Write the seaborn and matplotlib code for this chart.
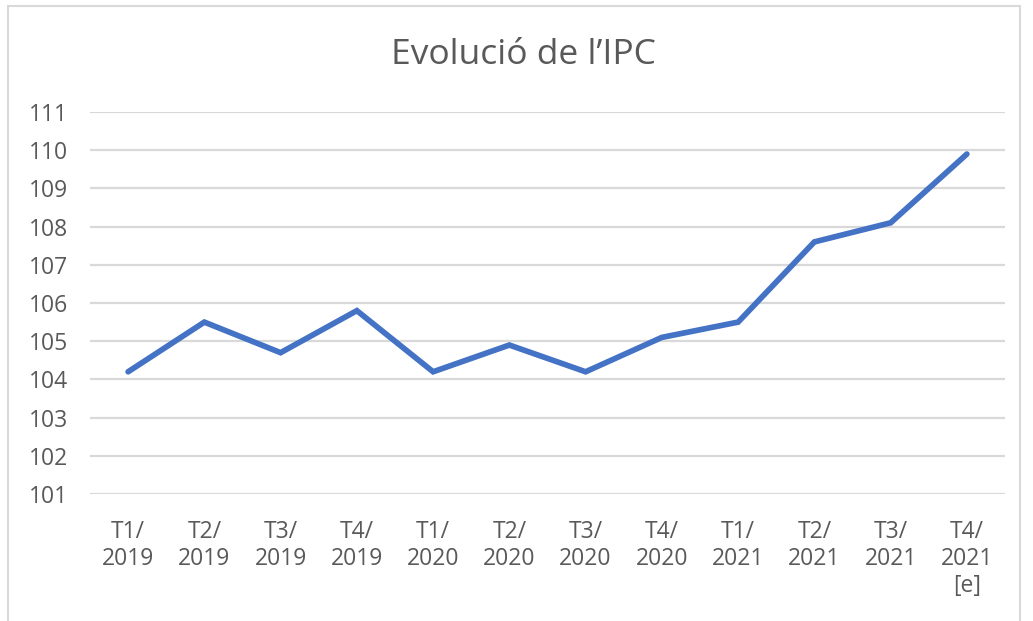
import pandas as pd
import seaborn as sns
from matplotlib import pyplot as plt
from matplotlib.patches import Rectangle

periods = ["T1/\n2019", "T2/\n2019", "T3/\n2019", "T4/\n2019",
           "T1/\n2020", "T2/\n2020", "T3/\n2020", "T4/\n2020",
           "T1/\n2021", "T2/\n2021", "T3/\n2021", "T4/\n2021\n[e]"]
ipc = [104.2, 105.5, 104.7, 105.8, 104.2, 104.9, 104.2, 105.1,
       105.5, 107.6, 108.1, 109.9]
yticks = list(range(101, 112))

df = pd.DataFrame({"periode": periods, "ipc": ipc})

sns.set_style("white")
plt.rcParams["font.family"] = ["Open Sans", "DejaVu Sans"]

grey = "#595959"

fig = plt.figure(figsize=(10.33, 6.21), dpi=100)
ax = fig.add_axes([0.0871, 0.2045, 0.8858, 0.6151])

sns.lineplot(x="periode", y="ipc", data=df, ax=ax, color="#4472C4",
             lw=4.1, sort=False, solid_joinstyle="miter")

ax.set_xlim(-0.5, len(periods) - 0.5)
ax.set_ylim(101, 111)
ax.set_yticks(yticks)
ax.grid(axis="y", color="#D9D9D9", lw=1.6)
ax.set_axisbelow(True)
for s in ax.spines.values():
    s.set_visible(False)
ax.tick_params(axis="y", length=0, pad=16, labelsize=16.5, labelcolor=grey)
ax.tick_params(axis="x", length=0, pad=19, labelsize=16.5, labelcolor=grey)
for t in ax.get_xticklabels():
    t.set_linespacing(1.16)
ax.set_xlabel("")
ax.set_ylabel("")

fig.text(0.507, 0.912, "Evolució de l’IPC", ha="center", va="center",
         fontsize=25.5, color=grey)

fig.patches.append(Rectangle((8 / 1033, -0.05), 1012 / 1033, 1.04,
                             transform=fig.transFigure, fill=False,
                             ec="#D9D9D9", lw=1.5))

fig.savefig("out.png", dpi=100)
